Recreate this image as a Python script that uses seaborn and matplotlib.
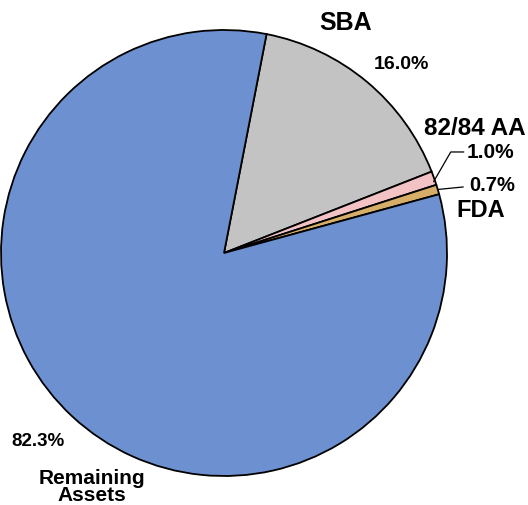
import seaborn as sns
import matplotlib.pyplot as plt

# data
labels = ["SBA", "82/84 AA", "FDA", "Remaining Assets"]
shares = [16.0, 1.0, 0.7, 82.3]
pct_text = ["16.0%", "1.0%", "0.7%", "82.3%"]

sns.set_style("white")
plt.rcParams["font.family"] = ["Liberation Sans", "DejaVu Sans"]
plt.rcParams["text.color"] = "black"

colors = ["#c3c3c3", "#f2c2c4", "#d6ae68", "#6d91d0"]

fig = plt.figure(figsize=(5.28, 5.06), dpi=100)
ax = fig.add_axes([1 / 528, 29 / 506, 446 / 528, 446 / 506])

ax.pie(shares, colors=colors, startangle=79, counterclock=False,
       wedgeprops=dict(edgecolor="black", linewidth=1.3))
ax.set_xlim(-1, 1)
ax.set_ylim(-1, 1)
ax.axis("off")

# labels
ax.text(0.547, 1.036, "SBA", ha="center", va="center", fontsize=18, fontweight="bold")
ax.text(0.794, 0.848, pct_text[0], ha="center", va="center", fontsize=14, fontweight="bold")
ax.text(1.126, 0.565, "82/84 AA", ha="center", va="center", fontsize=17.5, fontweight="bold",
        clip_on=False)
ax.annotate(pct_text[1], xy=(0.94, 0.32), xytext=(1.09, 0.453), ha="left", va="center",
            fontsize=15, fontweight="bold", annotation_clip=False,
            arrowprops=dict(arrowstyle="-", lw=0.9, color="black",
                            connectionstyle="angle,angleA=0,angleB=60,rad=0",
                            shrinkA=0, shrinkB=0))
ax.annotate(pct_text[2], xy=(0.96, 0.285), xytext=(1.10, 0.309), ha="left", va="center",
            fontsize=14.5, fontweight="bold", annotation_clip=False,
            arrowprops=dict(arrowstyle="-", lw=0.9, color="black", shrinkA=2, shrinkB=0))
ax.text(1.152, 0.197, "FDA", ha="center", va="center", fontsize=17, fontweight="bold",
        clip_on=False)
ax.text(-0.834, -0.843, pct_text[3], ha="center", va="center", fontsize=13.5, fontweight="bold")
ax.text(-0.592, -1.045, "Remaining\nAssets", ha="center", va="center", fontsize=15,
        fontweight="bold", linespacing=0.88, clip_on=False)

fig.savefig("out.png", dpi=100)
